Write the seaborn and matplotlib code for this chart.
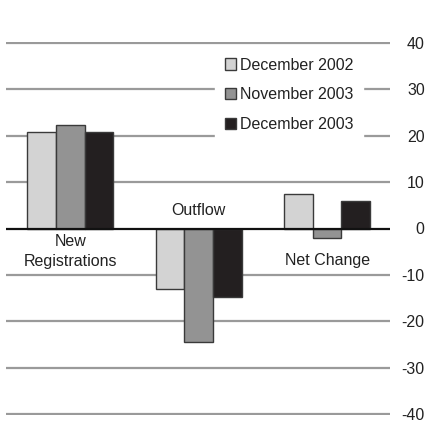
import matplotlib
matplotlib.use("Agg")
import matplotlib.pyplot as plt
import seaborn as sns
import pandas as pd

categories = ["New Registrations", "Outflow", "Net Change"]
series = ["December 2002", "November 2003", "December 2003"]
dec2002 = [20.9, -13.1, 7.5]
nov2003 = [22.4, -24.4, -2.0]
dec2003 = [20.7, -14.7, 6.0]
yticks = [40, 30, 20, 10, 0, -10, -20, -30, -40]
colors = ["#d3d3d3", "#939393", "#231f20"]

rows = []
for name, vals in zip(series, [dec2002, nov2003, dec2003]):
    for c, v in zip(categories, vals):
        rows.append({"category": c, "series": name, "value": v})
df = pd.DataFrame(rows)

sns.set_theme(style="white")
plt.rcParams["font.family"] = ["Liberation Sans", "DejaVu Sans"]

fig = plt.figure(figsize=(4.26, 4.21), dpi=100)
ax = fig.add_axes([6/426, 6/421, 384/426, 373/421])

sns.barplot(data=df, x="category", y="value", hue="series", order=categories,
            hue_order=series, palette=colors, width=0.67, edgecolor="#3a3a3a",
            linewidth=1.0, saturation=1, ax=ax, zorder=3, errorbar=None)

for t in yticks:
    if t == 0:
        ax.axhline(0, color="#111111", lw=1.6, zorder=4)
    else:
        ax.axhline(t, color="#9a9a9a", lw=1.6, zorder=1)

ax.set_xlim(-0.5, 2.49)
ax.set_ylim(-40.2, 40.2)
for s in ax.spines.values():
    s.set_visible(False)
ax.set_xlabel("")
ax.set_ylabel("")
ax.set_xticks([])
ax.yaxis.tick_right()
ax.set_yticks(yticks)
ax.set_yticklabels([str(t) for t in yticks])
ax.tick_params(axis="y", length=0, pad=25, labelsize=11.5, colors="#222222")
for lab in ax.get_yticklabels():
    lab.set_horizontalalignment("right")

ax.text(0, -5.0, "New\nRegistrations", ha="center", va="center", fontsize=11.5,
        color="#222222", linespacing=1.45)
ax.text(1, 3.8, "Outflow", ha="center", va="center", fontsize=11.5, color="#222222")
ax.text(2, -7.0, "Net Change", ha="center", va="center", fontsize=11.5, color="#222222")

leg = ax.legend(loc="upper left", bbox_to_anchor=(209/384, 0.984),
                frameon=True, fontsize=11.5, handlelength=0.7, handleheight=0.7,
                handletextpad=0.25, labelspacing=0.92, borderpad=0.6,
                borderaxespad=0)
leg.get_frame().set_facecolor("white")
leg.get_frame().set_edgecolor("white")
leg.get_frame().set_alpha(1)
leg.set_zorder(5)
for txt in leg.get_texts():
    txt.set_color("#222222")

fig.savefig("out.png", dpi=100)
